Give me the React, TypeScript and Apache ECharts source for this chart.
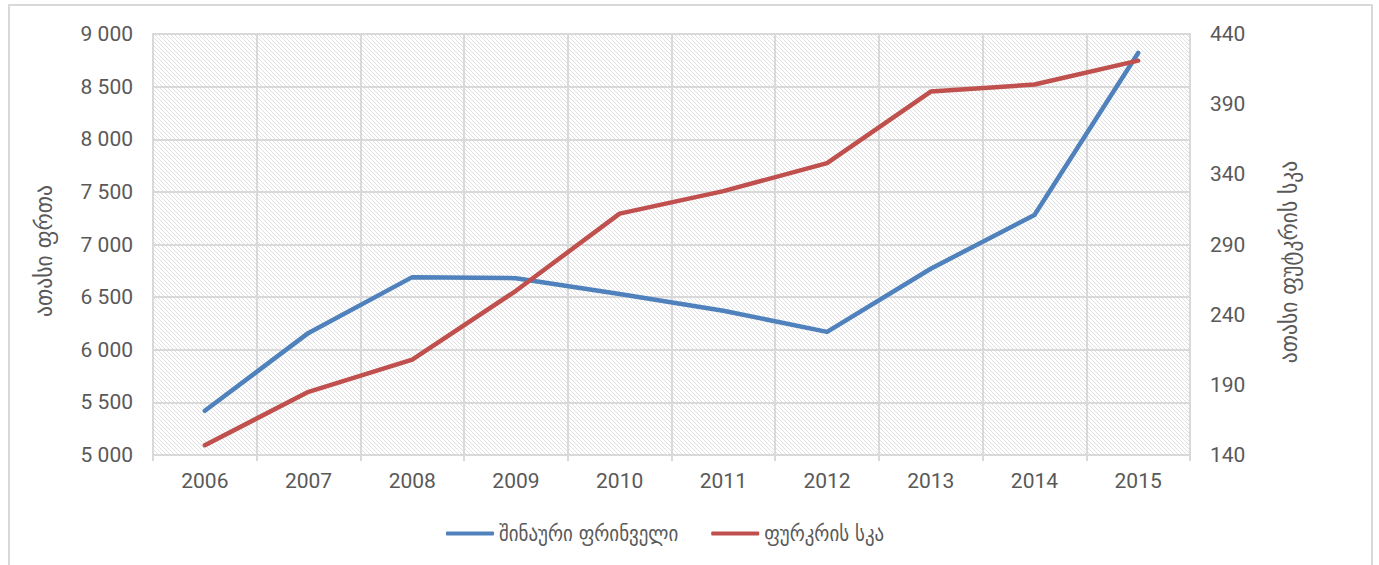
import React, { useEffect, useRef } from "react";
import * as echarts from "echarts";

const years = ["2006", "2007", "2008", "2009", "2010", "2011", "2012", "2013", "2014", "2015"];
const poultry = [5420, 6160, 6690, 6680, 6530, 6370, 6170, 6770, 7280, 8820];
const beehives = [147, 185, 208, 257, 312, 328, 348, 399, 404, 421];
const seriesNames = ["შინაური ფრინველი", "ფურკრის სკა"];
const leftAxisName = "ათასი ფრთა";
const rightAxisName = "ათასი ფუტკრის სკა";

const NUMFONT = "Roboto, 'DejaVu Sans Condensed', sans-serif";
const GEOFONT = "'DejaVu Sans Condensed', 'DejaVu Sans', sans-serif";
const TEXT = "#595959";
const GRIDC = "#d9d9d9";

function fmtThousands(v: number): string {
  return String(v).replace(/\B(?=(\d{3})+(?!\d))/g, " ");
}

export default function App() {
  const ref = useRef<HTMLDivElement>(null);
  useEffect(() => {
    if (!ref.current) return;
    const chart = echarts.init(ref.current, undefined, { renderer: "svg" });
    const c = document.createElement("canvas");
    c.width = 4;
    c.height = 4;
    const ctx = c.getContext("2d")!;
    ctx.fillStyle = "#ffffff";
    ctx.fillRect(0, 0, 4, 4);
    ctx.fillStyle = "#e0e0e0";
    for (let i = 0; i < 4; i++) ctx.fillRect(i, i, 1, 1);

    chart.setOption({
      animation: false,
      backgroundColor: "#ffffff",
      textStyle: { fontFamily: NUMFONT },
      graphic: [
        {
          type: "rect",
          shape: { x: 9, y: 5, width: 1363, height: 600 },
          style: { fill: "none", stroke: GRIDC, lineWidth: 2 },
          silent: true,
        },
      ],
      grid: {
        left: 153,
        right: 189,
        top: 34,
        bottom: 110,
        show: true,
        borderColor: GRIDC,
        borderWidth: 2,
        backgroundColor: { image: c, repeat: "repeat" },
      },
      legend: {
        left: 441,
        top: 518,
        icon: "roundRect",
        itemWidth: 48,
        itemHeight: 4,
        itemGap: 33,
        textStyle: { fontSize: 21, color: TEXT, fontFamily: GEOFONT },
        data: seriesNames,
      },
      xAxis: {
        type: "category",
        data: years,
        boundaryGap: true,
        axisLine: { lineStyle: { color: GRIDC, width: 2 } },
        axisTick: { show: true, length: 6, lineStyle: { color: GRIDC, width: 2 } },
        splitLine: { show: true, lineStyle: { color: GRIDC, width: 2 } },
        axisLabel: { fontSize: 21, color: TEXT, margin: 15, fontFamily: NUMFONT },
      },
      yAxis: [
        {
          type: "value",
          min: 5000,
          max: 9000,
          interval: 500,
          name: leftAxisName,
          nameLocation: "middle",
          nameRotate: 90,
          nameGap: 97,
          nameTextStyle: { fontSize: 24, color: TEXT, fontFamily: GEOFONT, padding: [0, 13, 0, 0] },
          axisLine: { show: false },
          axisTick: { show: false },
          splitLine: { show: true, lineStyle: { color: GRIDC, width: 2 } },
          axisLabel: { fontSize: 21, color: TEXT, margin: 20, formatter: fmtThousands, fontFamily: NUMFONT },
        },
        {
          type: "value",
          min: 140,
          max: 440,
          interval: 50,
          position: "right",
          name: rightAxisName,
          nameLocation: "middle",
          nameRotate: 90,
          nameGap: 87,
          nameTextStyle: { fontSize: 24, color: TEXT, fontFamily: GEOFONT, padding: [0, 35, 0, 0] },
          axisLine: { show: false },
          axisTick: { show: false },
          splitLine: { show: false },
          axisLabel: { fontSize: 21, color: TEXT, margin: 20, fontFamily: NUMFONT },
        },
      ],
      series: [
        {
          name: seriesNames[0],
          type: "line",
          data: poultry,
          yAxisIndex: 0,
          symbol: "none",
          color: "#4f81bd",
          lineStyle: { width: 4.5, color: "#4f81bd", cap: "round", join: "round" },
        },
        {
          name: seriesNames[1],
          type: "line",
          data: beehives,
          yAxisIndex: 1,
          symbol: "none",
          color: "#c0504d",
          lineStyle: { width: 4.5, color: "#c0504d", cap: "round", join: "round" },
        },
      ],
    });
    return () => chart.dispose();
  }, []);
  return (
    <div
      ref={ref}
      style={{ position: "fixed", left: 0, top: 0, width: 1379, height: 565 }}
    />
  );
}
